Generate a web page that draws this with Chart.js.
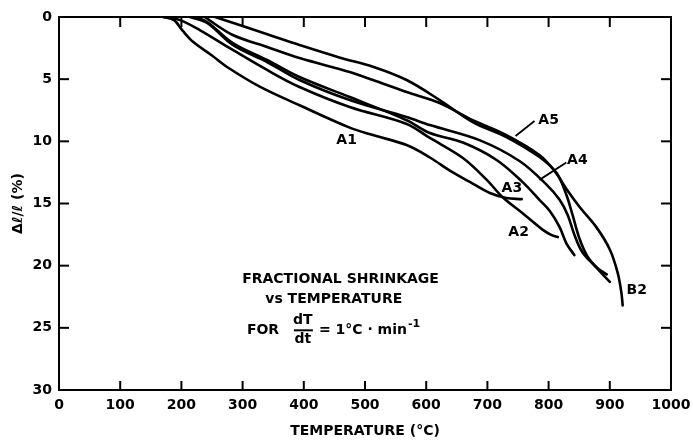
<!DOCTYPE html>
<html><head><meta charset="utf-8">
<script src="https://cdn.jsdelivr.net/npm/chart.js@4.4.0/dist/chart.umd.min.js"></script>
<style>html,body{margin:0;padding:0;background:#fff}</style>
</head><body>
<canvas id="c" width="693" height="441"></canvas>
<script>
// ---- data (temperature °C, shrinkage %) ----
const xTicks = [0,100,200,300,400,500,600,700,800,900,1000];
const yTicks = [0,5,10,15,20,25,30];

const tempA1   = [170,188,202,219,250,274,328,393,475,513,568,606,640,676,704,731,756];
const shrinkA1 = [0,0.25,1.1,2.0,3.1,4.0,5.6,7.1,8.9,9.5,10.3,11.3,12.4,13.4,14.15,14.55,14.65];

const tempA2   = [175,198,230,284,340,393,475,568,606,660,699,725,758,790,805,815];
const shrinkA2 = [0,0.25,1.05,2.65,4.26,5.63,7.24,8.6,9.73,11.34,13.1,14.5,15.8,17.1,17.55,17.7];

const tempA3   = [222,242,284,340,393,475,568,606,660,715,758,785,802,818,829,842];
const shrinkA3 = [0,0.4,2.1,3.46,4.83,6.44,8.3,9.33,10.1,11.5,13.3,14.7,15.6,16.9,18.2,19.15];

const tempA4   = [214,242,284,340,393,475,568,606,687,753,797,818,831,842,855,875,900];
const shrinkA4 = [0,0.48,2.25,3.62,5.07,6.68,8.05,8.69,9.9,11.6,13.5,14.7,15.9,17.5,18.9,20.0,21.3];

const tempA5   = [255,295,344,393,458,513,568,622,676,731,785,813,829,839,851,864,880,895];
const shrinkA5 = [0,0.64,1.45,2.25,3.25,4.0,5.07,6.68,8.45,9.65,11.26,12.55,14.3,15.9,17.9,19.3,20.2,20.7];

const tempB2   = [238,284,340,393,475,513,568,622,676,731,785,810,830,851,878,900,913,919,921];
const shrinkB2 = [0,1.45,2.41,3.3,4.42,5.07,6.03,6.92,8.3,9.5,11.1,12.4,13.9,15.3,16.9,18.7,20.6,22.2,23.2];

const curveNames = ['A1','A2','A3','A4','A5','B2'];
const curveTemps = [tempA1,tempA2,tempA3,tempA4,tempA5,tempB2];
const curveShrinks = [shrinkA1,shrinkA2,shrinkA3,shrinkA4,shrinkA5,shrinkB2];

// curve labels (data coordinates)
const labelTexts = ['A1','A2','A3','A4','A5','B2'];
const labelT = [470,751,740,847,800,944];
const labelD = [9.9,17.3,13.76,11.5,8.29,22.0];
// leader lines for A4, A5
const leaderT1 = [829,777], leaderD1 = [11.7,8.37];
const leaderT2 = [785,746], leaderD2 = [13.1,9.57];

const FONT = '"DejaVu Sans", sans-serif';

const datasets = curveNames.map((n,i)=>({
  label:n,
  data: curveTemps[i].map((t,k)=>({x:t,y:curveShrinks[i][k]})),
  borderColor:'#000', borderWidth:2.6, pointRadius:0, tension:0.35, fill:false,
  borderJoinStyle:'round', borderCapStyle:'round'
}));

function line(ctx,x1,y1,x2,y2){ctx.beginPath();ctx.moveTo(x1,y1);ctx.lineTo(x2,y2);ctx.stroke();}

const framePlugin = {
  id:'frame',
  afterDatasetsDraw(chart){
    const {ctx, chartArea:{left,right,top,bottom}, scales:{x,y}} = chart;
    ctx.save();
    ctx.strokeStyle='#000'; ctx.lineWidth=2;
    ctx.strokeRect(left,top,right-left,bottom-top);
    ctx.lineWidth=2;
    xTicks.forEach(v=>{const px=x.getPixelForValue(v); line(ctx,px,top,px,top+10); line(ctx,px,bottom,px,bottom-9);});
    yTicks.forEach(v=>{const py=y.getPixelForValue(v); line(ctx,left,py,left+10,py); line(ctx,right,py,right-10,py);});
    // curve labels
    ctx.fillStyle='#000'; ctx.font='bold 14px '+FONT; ctx.textAlign='center'; ctx.textBaseline='middle';
    labelTexts.forEach((t,i)=>ctx.fillText(t, x.getPixelForValue(labelT[i]), y.getPixelForValue(labelD[i])));
    ctx.lineWidth=1.8;
    leaderT1.forEach((t,i)=>line(ctx,x.getPixelForValue(t),y.getPixelForValue(leaderD1[i]),x.getPixelForValue(leaderT2[i]),y.getPixelForValue(leaderD2[i])));
    // annotation block
    ctx.font='bold 14px '+FONT;
    ctx.fillText('FRACTIONAL SHRINKAGE', x.getPixelForValue(460), y.getPixelForValue(21.1));
    ctx.fillText('vs TEMPERATURE', x.getPixelForValue(449), y.getPixelForValue(22.7));
    const x0 = x.getPixelForValue(307), y0 = y.getPixelForValue(25.2);
    ctx.textAlign='left';
    ctx.fillText('FOR', x0, y0);
    ctx.textAlign='center';
    ctx.fillText('dT', x0+56, y0-10);
    ctx.fillText('dt', x0+56, y0+9);
    ctx.lineWidth=2; line(ctx,x0+47,y0,x0+66,y0);
    ctx.textAlign='left';
    const s='= 1°C · min';
    ctx.fillText(s, x0+72, y0);
    const w=ctx.measureText(s).width;
    ctx.font='bold 11px '+FONT;
    ctx.fillText('-1', x0+73+w, y0-6);
    ctx.restore();
  }
};

new Chart(document.getElementById('c'), {
  type:'line',
  data:{datasets},
  options:{
    responsive:false, animation:false, devicePixelRatio:1,
    layout:{padding:{left:0,right:22,top:17,bottom:0}},
    plugins:{legend:{display:false}, tooltip:{enabled:false}},
    scales:{
      x:{type:'linear', min:0, max:1000,
        afterBuildTicks:s=>{s.ticks=xTicks.map(v=>({value:v}));},
        afterFit:s=>{s.height=51; s.paddingLeft=0; s.paddingRight=0;},
        grid:{display:false, drawTicks:false}, border:{display:false},
        ticks:{color:'#000', font:{family:FONT, weight:'bold', size:14}, padding:7, maxRotation:0, autoSkip:false, callback:v=>String(v)},
        title:{display:true, text:'TEMPERATURE (°C)', color:'#000', font:{family:FONT, weight:'bold', size:14}, padding:{top:0,bottom:1}}
      },
      y:{type:'linear', min:0, max:30, reverse:true,
        afterBuildTicks:s=>{s.ticks=yTicks.map(v=>({value:v}));},
        afterFit:s=>{s.width=59; s.paddingTop=0; s.paddingBottom=0;},
        grid:{display:false, drawTicks:false}, border:{display:false},
        ticks:{color:'#000', font:{family:FONT, weight:'bold', size:14}, padding:7, autoSkip:false, callback:v=>String(v)},
        title:{display:true, text:'Δℓ/ℓ (%)', color:'#000', font:{family:FONT, weight:'bold', size:14}, padding:{top:10,bottom:0}}
      }
    }
  },
  plugins:[framePlugin]
});
</script>
</body></html>
